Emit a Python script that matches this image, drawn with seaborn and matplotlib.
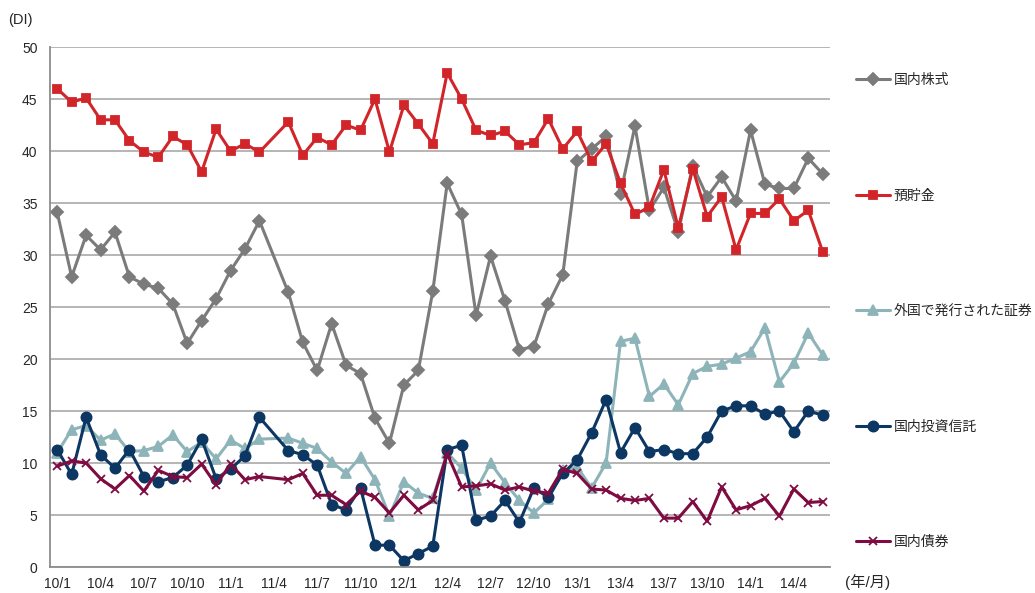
import pandas as pd
import matplotlib
matplotlib.use('Agg')
import matplotlib.pyplot as plt
import seaborn as sns

# 月 (10/1 〜 14/6)、11/4 は欠測
months = [f"{10 + i // 12}/{i % 12 + 1}" for i in range(54)]
tick_labels = ['10/1', '10/4', '10/7', '10/10', '11/1', '11/4', '11/7', '11/10',
               '12/1', '12/4', '12/7', '12/10', '13/1', '13/4', '13/7', '13/10',
               '14/1', '14/4']

stocks = [34.1, 27.9, 31.9, 30.5, 32.2, 27.9, 27.2, 26.8, 25.3, 21.5,
          23.7, 25.8, 28.5, 30.6, 33.3, None, 26.4, 21.6, 18.9, 23.4,
          19.4, 18.6, 14.3, 11.9, 17.5, 18.9, 26.5, 36.9, 33.9, 24.2,
          29.9, 25.6, 20.9, 21.2, 25.3, 28.1, 39.0, 40.2, 41.4, 35.9,
          42.4, 34.3, 36.5, 32.2, 38.6, 35.6, 37.5, 35.2, 42.0, 36.8,
          36.4, 36.4, 39.3, 37.8]
deposits = [46.0, 44.7, 45.1, 43.0, 43.0, 41.0, 39.9, 39.4, 41.4, 40.6,
            38.0, 42.1, 40.0, 40.7, 39.9, None, 42.8, 39.6, 41.3, 40.6,
            42.5, 42.0, 45.0, 39.9, 44.4, 42.6, 40.7, 47.5, 45.0, 42.0,
            41.5, 41.9, 40.6, 40.8, 43.1, 40.2, 41.9, 39.0, 40.7, 36.9,
            33.9, 34.6, 38.2, 32.6, 38.3, 33.7, 35.6, 30.5, 34.0, 34.0,
            35.4, 33.3, 34.3, 30.3]
foreign = [11.0, 13.2, 13.6, 12.2, 12.8, 11.1, 11.2, 11.6, 12.7, 11.1,
           12.0, 10.4, 12.2, 11.4, 12.3, None, 12.4, 11.9, 11.4, 10.1,
           9.0, 10.6, 8.4, 4.9, 8.2, 7.1, 6.6, 11.0, 9.5, 7.4,
           10.0, 8.1, 6.4, 5.2, 6.5, 9.3, 9.6, 7.6, 10.0, 21.7,
           22.0, 16.4, 17.6, 15.6, 18.6, 19.3, 19.5, 20.1, 20.7, 23.0,
           17.8, 19.6, 22.5, 20.4]
trusts = [11.3, 8.9, 14.4, 10.8, 9.5, 11.3, 8.7, 8.2, 8.6, 9.8,
          12.3, 8.5, 9.4, 10.7, 14.4, None, 11.2, 10.8, 9.8, 6.0,
          5.5, 7.6, 2.1, 2.1, 0.6, 1.3, 2.0, 11.3, 11.7, 4.5,
          4.9, 6.4, 4.3, 7.6, 6.7, 9.0, 10.3, 12.9, 16.1, 11.0,
          13.4, 11.1, 11.3, 10.9, 10.9, 12.5, 15.0, 15.5, 15.5, 14.7,
          15.0, 13.0, 15.0, 14.6]
bonds = [9.7, 10.2, 10.0, 8.5, 7.5, 8.8, 7.3, 9.3, 8.7, 8.6,
         9.9, 7.9, 9.9, 8.4, 8.7, None, 8.4, 9.0, 6.9, 6.9,
         6.0, 7.3, 6.7, 5.2, 6.9, 5.5, 6.4, 10.9, 7.7, 7.8,
         8.0, 7.4, 7.7, 7.3, 7.1, 9.4, 9.0, 7.5, 7.4, 6.6,
         6.4, 6.6, 4.7, 4.7, 6.3, 4.4, 7.7, 5.5, 5.9, 6.6,
         4.9, 7.5, 6.2, 6.3]

df = pd.DataFrame({'month': months, '国内株式': stocks, '預貯金': deposits,
                   '外国で発行された証券': foreign, '国内投資信託': trusts,
                   '国内債券': bonds})
df['pos'] = range(len(df))
df = df.dropna().reset_index(drop=True)

sns.set_style('white')
plt.rcParams['font.family'] = ['Liberation Sans', 'Noto Sans CJK JP', 'DejaVu Sans']

fig = plt.figure(figsize=(10.35, 5.93), dpi=100)
ax = fig.add_axes([0.0483, 0.0438, 0.7536, 0.8769])

# 系列ごとのスタイル
series = [
    ('国内株式', '#7b7b7b', 'D', 5.8),
    ('預貯金', '#d2252a', 's', 6.3),
    ('外国で発行された証券', '#8db4b9', '^', 7.3),
    ('国内投資信託', '#0c3763', 'o', 7.3),
    ('国内債券', '#7e0c41', 'x', 5.8),
]
for name, color, mk, ms in series:
    sns.lineplot(x='pos', y=name, data=df, ax=ax, color=color, marker=mk,
                 markersize=ms, markeredgecolor=color, markeredgewidth=1.3,
                 linewidth=2.2, label=name, legend=False)

# 軸
ax.set_xlim(-0.5, 53.5)
ax.set_ylim(0, 50)
ax.set_yticks(range(0, 51, 5))
ax.set_xticks([p - 0.5 for p in range(0, 54, 3)] + [53.5])
ax.set_xticklabels([])
ax.set_xticks(list(range(0, 54, 3)), minor=True)
ax.set_xticklabels(tick_labels, minor=True)
ax.tick_params(axis='x', which='major', length=5, color='#8c8c8c', width=1)
ax.tick_params(axis='x', which='minor', length=0, pad=7, labelsize=10)
ax.tick_params(axis='y', length=5, color='#8c8c8c', width=1, labelsize=10, pad=4)
ax.set_xlabel('')
ax.set_ylabel('')
ax.grid(axis='y', color='#a9a9a9', linewidth=1.2)
ax.set_axisbelow(True)
sns.despine(ax=ax)
for s in ['left', 'bottom']:
    ax.spines[s].set_color('#8c8c8c')
    ax.spines[s].set_linewidth(1.3)

fig.text(0.008, 0.966, '(DI)', fontsize=10.5, ha='left', va='center')
fig.text(0.816, 0.019, '(年/月)', fontsize=11, ha='left', va='center')

handles, labels = ax.get_legend_handles_labels()
fig.legend(handles, labels, loc='upper left', bbox_to_anchor=(0.822, 0.886),
           frameon=False, fontsize=10, labelspacing=7.31, handlelength=2.4,
           handletextpad=0.3, borderaxespad=0)

plt.savefig('out.png', dpi=100)
